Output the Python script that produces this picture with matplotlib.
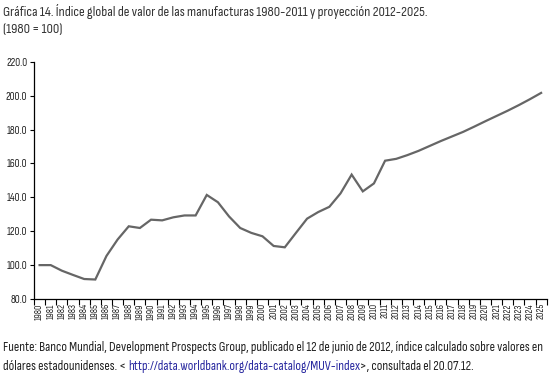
import numpy as np
import matplotlib
matplotlib.use("Agg")
import matplotlib.pyplot as plt
from matplotlib.offsetbox import TextArea, HPacker, AnchoredOffsetbox

plt.rcParams["font.family"] = ["Sofia Sans Condensed", "DejaVu Sans"]

# Datos (índice 1980 = 100)
anios = [str(a) for a in range(1980, 2026)]
indice = [
    100.0, 100.0, 96.7, 94.2, 91.8, 91.5, 105.4, 115.1, 122.9, 121.9,
    126.8, 126.4, 128.2, 129.3, 129.3, 141.4, 137.1, 128.7, 121.9, 119.0,
    117.0, 111.3, 110.5, 119.0, 127.4, 131.3, 134.4, 142.3, 153.4, 143.5,
    148.2, 161.6, 162.7, 164.9, 167.4, 170.3, 173.2, 175.9, 178.6, 181.7,
    184.9, 188.0, 191.1, 194.4, 197.9, 201.6,
]
y_ticks = [80, 100, 120, 140, 160, 180, 200, 220]

titulo = ("Gráfica 14. Índice global de valor de las manufacturas 1980-2011 y proyección 2012-2025.\n"
          "(1980 = 100)")
fuente_1 = ("Fuente: Banco Mundial, Development Prospects Group, publicado el 12 de junio de 2012, "
            "índice calculado sobre valores en")
fuente_2a = "dólares estadounidenses. < "
fuente_url = "http://data.worldbank.org/data-catalog/MUV-index"
fuente_2b = ">, consultada el 20.07.12."

fig = plt.figure(figsize=(5.54, 3.81), dpi=100)
ax = fig.add_axes([0.0614, 0.2152, 0.9254, 0.6228])

x = np.arange(len(anios))
ax.plot(x, indice, color="#666666", lw=1.6, solid_joinstyle="miter")

ax.set_xlim(-0.5, len(anios) - 0.5)
ax.set_ylim(80, 220)
ax.set_yticks(y_ticks)
ax.set_yticklabels([f"{v:.1f}" for v in y_ticks], fontsize=8, color="#222222")
ax.set_xticks(x)
ax.set_xticklabels(anios, rotation=90, fontsize=7, color="#222222")
ax.tick_params(axis="x", which="major", length=0, pad=3)
ax.set_xticks(np.arange(-0.5, len(anios)), minor=True)
ax.tick_params(axis="x", which="minor", length=4, width=0.8, direction="out")
ax.tick_params(axis="y", length=3, width=0.8, pad=2)
ax.spines[["top", "right"]].set_visible(False)
ax.spines[["left", "bottom"]].set_linewidth(0.9)

fig.text(0.006, 0.99, titulo, ha="left", va="top", fontsize=10.3,
         color="#333333", linespacing=1.45)
fig.text(0.006, 0.089, fuente_1, ha="left", va="center", fontsize=9.7, color="#222222")

fila = HPacker(children=[
    TextArea(fuente_2a, textprops=dict(fontsize=9.7, color="#222222")),
    TextArea(fuente_url, textprops=dict(fontsize=9.7, color="#2a2aa0")),
    TextArea(fuente_2b, textprops=dict(fontsize=9.7, color="#222222")),
], sep=0, pad=0, align="baseline")
caja = AnchoredOffsetbox(loc="center left", child=fila, pad=0, borderpad=0,
                         frameon=False, bbox_to_anchor=(0.006, 0.037),
                         bbox_transform=fig.transFigure)
fig.add_artist(caja)

fig.savefig("out.png", dpi=100, facecolor="white")
